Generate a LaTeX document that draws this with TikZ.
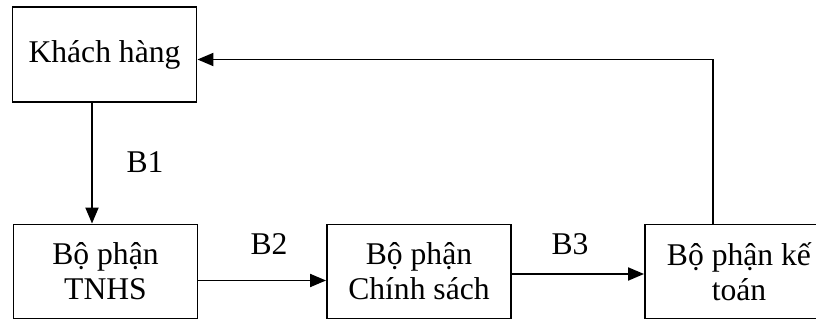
\documentclass[tikz,border=0pt]{standalone}
\usepackage{fontspec}
\setmainfont{Liberation Serif}
\usetikzlibrary{arrows.meta}

\tikzstyle{block} = [draw, line width=1.1pt, minimum width=3.68cm, minimum height=1.88cm, align=center, inner sep=0pt]

\begin{document}
\begin{tikzpicture}[x=0.02cm,y=-0.02cm, every node/.style={font=\fontsize{18}{20}\selectfont}, >={Triangle[length=3.2mm,width=2.6mm]}, line width=1.1pt]
			\clip (0,0) rectangle (816,320);
			\node[block, minimum height=1.9cm] (kh) at (104.5,54.5) {Khách hàng};
			\node[block] (tnhs) at (105.5,271.5) {Bộ phận\\TNHS};
			\node[block] (cs) at (419,271.5) {Bộ phận\\Chính sách};
			\node[block, minimum width=3.76cm] (kt) at (739,271.5) {Bộ phận kế\\toán};
			\node (b1lab) at (145,162) {B1};
			\node (b2lab) at (269,244) {B2};
			\node (b3lab) at (570,244) {B3};
			\coordinate (b1) at (92,0);
			\coordinate (back) at (713,0);
			\draw [->] (kh.south -| b1) -- (tnhs.north -| b1);
			\draw [->] ([yshift=-0.18cm]tnhs.east) -- ([yshift=-0.18cm]cs.west);
			\draw [->] ([yshift=-0.05cm]cs.east) -- ([yshift=-0.05cm]kt.west);
			\draw [->] (kt.north -| back) |- ([yshift=-0.1cm]kh.east);
		\end{tikzpicture}
\end{document}
